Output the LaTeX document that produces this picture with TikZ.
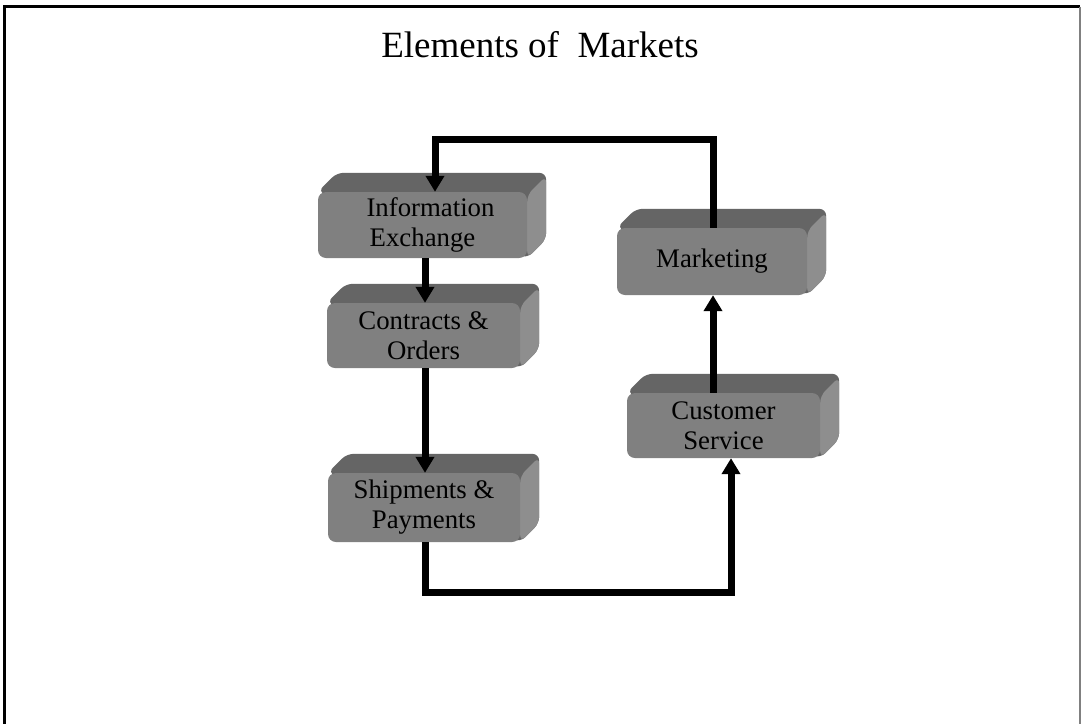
\documentclass[tikz,border=0pt]{standalone}
\usepackage{fontspec}
\setmainfont{Liberation Serif}
\usetikzlibrary{arrows.meta,calc}
\pgfdeclarelayer{bg}
\pgfsetlayers{bg,main}
\definecolor{frontgray}{HTML}{808080}
\definecolor{topgray}{HTML}{656565}
\definecolor{sidegray}{HTML}{8E8E8E}
\tikzset{
  boxfront/.style={rectangle, rounded corners=8pt, fill=frontgray, inner sep=0pt,
    align=center, font=\fontsize{26.8}{30}\selectfont},
  conn/.style={line width=7pt, -{Triangle[width=18pt,length=16pt]}},
  titlestyle/.style={font=\fontsize{37}{40}\selectfont, anchor=base},
  framestyle/.style={line width=3pt},
}
\newcommand{\extrudebox}[1]{%
  \begin{pgfonlayer}{bg}
    \fill[topgray, rounded corners=7pt] (#1.north west) -- ++(19pt,19pt)
      -- ($(#1.north east)+(19pt,19pt)$) -- ($(#1.south east)+(19pt,19pt)$)
      -- (#1.south east) -- cycle;
    \fill[sidegray, rounded corners=7pt] ([yshift=-3pt]#1.north east) -- ++(19pt,19pt)
      -- ($(#1.south east)+(19pt,19pt)$) -- (#1.south east) -- cycle;
  \end{pgfonlayer}}
\begin{document}
\begin{tikzpicture}[x=1pt,y=1pt]
\clip (0,0) rectangle (1081,-723);
\begin{pgfonlayer}{bg}
\fill[white] (0,0) rectangle (1081,-723);
\end{pgfonlayer}
\draw[framestyle] (4.5,-760) -- (4.5,-6.5) -- (1080,-6.5);
\draw[framestyle, gray, line width=2pt] (1080.2,-6.5) -- (1080.2,-760);

\node[titlestyle] (title) at (540,-57) {Elements of~~Markets};

\node[boxfront, minimum width=209pt, minimum height=66pt] (ie) at (422.5,-225)
  {\hspace*{16pt}Information\\Exchange};
\extrudebox{ie}
\node[boxfront, minimum width=193pt, minimum height=65pt] (co) at (423.5,-335.5)
  {Contracts \&\\Orders};
\extrudebox{co}
\node[boxfront, minimum width=192pt, minimum height=69pt] (sh) at (424,-507.5)
  {Shipments \&\\Payments};
\extrudebox{sh}
\node[boxfront, minimum width=190pt, minimum height=67pt] (mk) at (712,-261.5)
  {Marketing};
\extrudebox{mk}
\node[boxfront, minimum width=193pt, minimum height=65pt] (cs) at (723.5,-425.5)
  {Customer\\Service};
\extrudebox{cs}

\draw[conn] ([xshift=1pt]mk.north) -- ++(0,88) -| ([xshift=12.5pt]ie.north);
\draw[conn] ([xshift=2.5pt]ie.south) -- ([xshift=1.5pt]co.north);
\draw[conn] ([xshift=1.5pt]co.south) -- ([xshift=1pt]sh.north);
\draw[conn] ([xshift=1pt]sh.south) -- ++(0,-50) -| ([xshift=7.5pt]cs.south);
\draw[conn] ([xshift=-10.5pt]cs.north) -- ([xshift=1pt]mk.south);
\end{tikzpicture}
\end{document}
